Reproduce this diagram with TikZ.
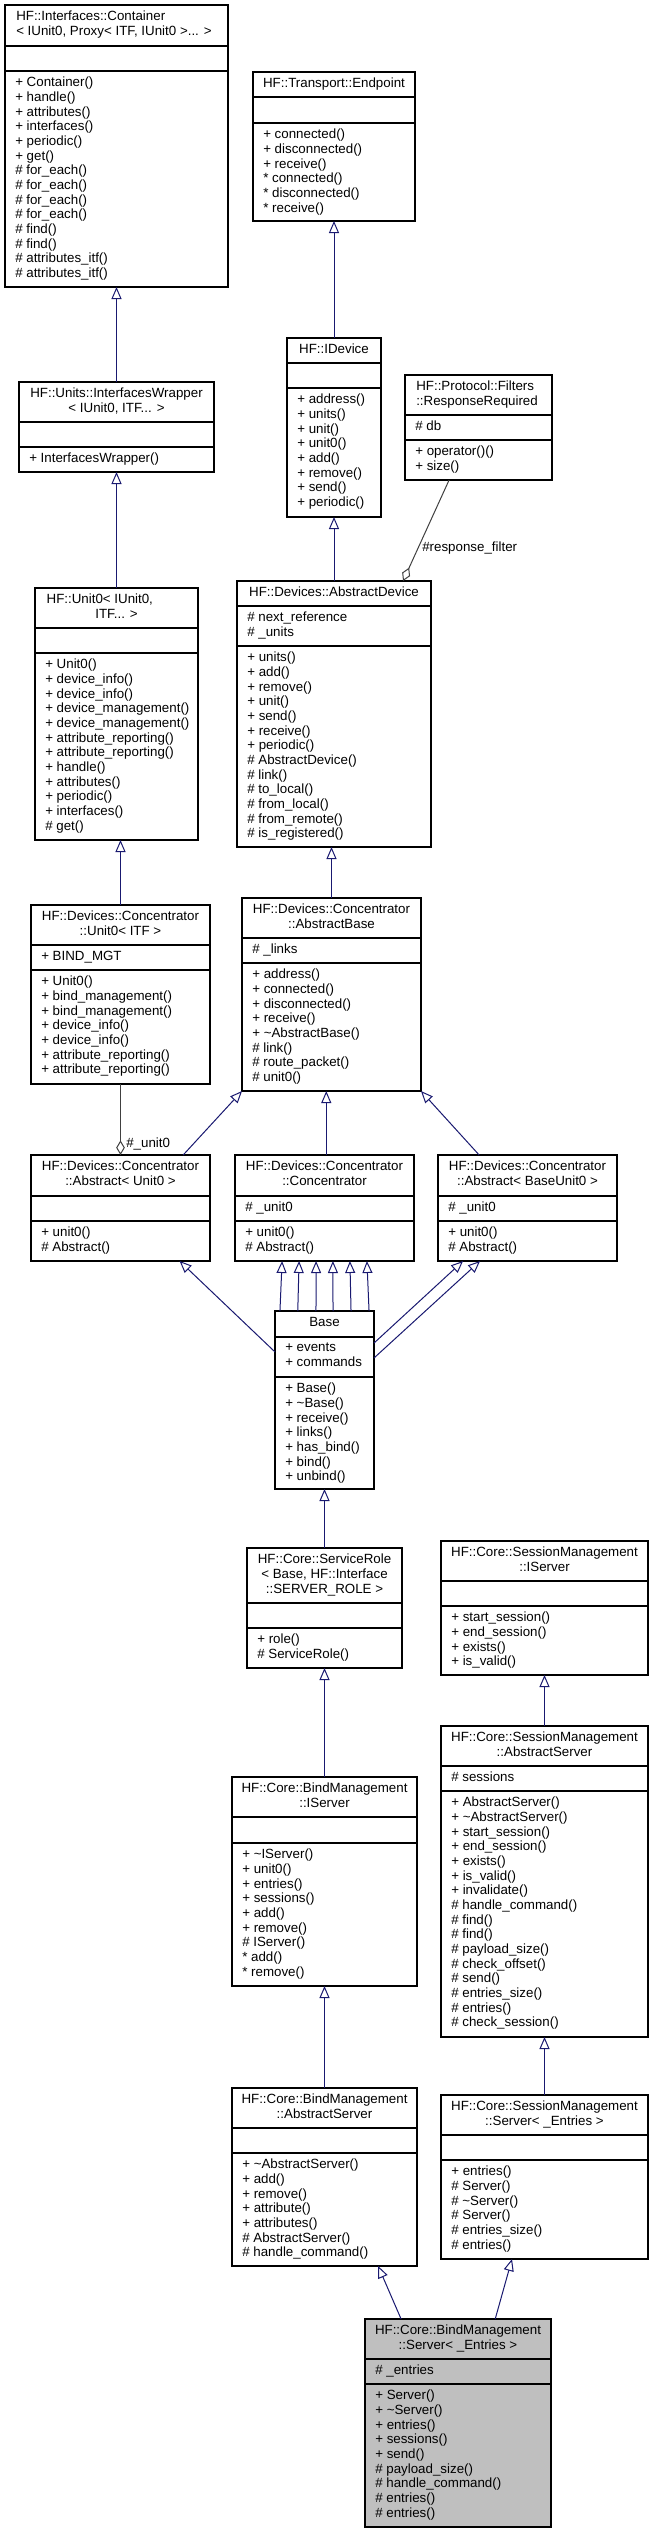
\documentclass[tikz,border=0pt]{standalone}
\usepackage{fontspec}
\setmainfont{Liberation Sans}
\usetikzlibrary{arrows.meta,calc}
\definecolor{edgeblue}{HTML}{191970}
\definecolor{edgegray}{HTML}{404040}
\definecolor{mainfill}{HTML}{BFBFBF}
\tikzset{
  classbox/.style={draw=black, line width=0.9pt, fill=white, inner sep=0pt, outer sep=0pt, rectangle},
  sepline/.style={draw=black, line width=0.9pt},
  txt/.style={anchor=north west, align=left, inner sep=0pt, font=\fontsize{10}{11}\selectfont},
  ttl/.style={anchor=north, align=center, inner sep=0pt, font=\fontsize{10}{11}\selectfont},
  ttll/.style={anchor=north west, align=left, inner sep=0pt, font=\fontsize{10}{11}\selectfont},
  lbl/.style={inner sep=0pt, font=\fontsize{10}{11}\selectfont},
  inh/.style={draw=edgeblue, line width=0.75pt, -{Triangle[length=9pt,width=7.5pt,fill=white]}},
  comp/.style={draw=edgegray, line width=0.75pt, -{Diamond[length=11pt,width=6.5pt,fill=white]}},
}
% name, x1, x2, y1, s1, s2, y2, extra style
\newcommand\umlbox[8]{%
  \node[classbox,#8,minimum width={(#3-#2)*0.75pt},minimum height={(#7-#4)*0.75pt},anchor=north west] (#1) at (#2,#4) {};
  \draw[sepline] (#2,#5) -- (#3,#5);
  \draw[sepline] (#2,#6) -- (#3,#6);
  \coordinate (#1-t) at ({(#2+#3)/2},#4+6);
  \coordinate (#1-tl) at (#2+11,#4+6);
  \coordinate (#1-a) at (#2+10,#5+6);
  \coordinate (#1-m) at (#2+10,#6+6);
}
\begin{document}
\begin{tikzpicture}[x=0.75pt,y=-0.75pt]
\path[fill=white,use as bounding box] (0,0) rectangle (653,2531);

% ---- classes ----
\umlbox{cont}{5}{228}{5}{46}{71}{287}{}
\node[ttll] (cont-title) at (cont-tl) {HF::Interfaces::Container\\< IUnit0, Proxy< ITF, IUnit0 >... >};
\node[txt] (cont-meth) at (cont-m) {+ Container()\\+ handle()\\+ attributes()\\+ interfaces()\\+ periodic()\\+ get()\\\# for\_each()\\\# for\_each()\\\# for\_each()\\\# for\_each()\\\# find()\\\# find()\\\# attributes\_itf()\\\# attributes\_itf()};

\umlbox{endp}{253}{415}{72}{97}{123}{221}{}
\node[ttl] (endp-title) at (endp-t) {HF::Transport::Endpoint};
\node[txt] (endp-meth) at (endp-m) {+ connected()\\+ disconnected()\\+ receive()\\* connected()\\* disconnected()\\* receive()};

\umlbox{iw}{19}{214}{382}{422}{447}{472}{}
\node[ttl] (iw-title) at (iw-t) {HF::Units::InterfacesWrapper\\< IUnit0, ITF... >};
\node[txt] (iw-meth) at (iw-m) {+ InterfacesWrapper()};

\umlbox{idev}{287}{381}{338}{363}{388}{517}{}
\node[ttl] (idev-title) at (idev-t) {HF::IDevice};
\node[txt] (idev-meth) at (idev-m) {+ address()\\+ units()\\+ unit()\\+ unit0()\\+ add()\\+ remove()\\+ send()\\+ periodic()};

\umlbox{resp}{405}{552}{375}{415}{440}{480}{}
\node[ttll] (resp-title) at (resp-tl) {HF::Protocol::Filters\\::ResponseRequired};
\node[txt] (resp-attr) at (resp-a) {\# db};
\node[txt] (resp-meth) at (resp-m) {+ operator()()\\+ size()};

\umlbox{u0}{35}{198}{588}{628}{653}{840}{}
\node[ttl] (u0-title) at (u0-t) {\makebox[104.8pt][l]{HF::Unit0< IUnit0,}\\ITF... >};
\node[txt] (u0-meth) at (u0-m) {+ Unit0()\\+ device\_info()\\+ device\_info()\\+ device\_management()\\+ device\_management()\\+ attribute\_reporting()\\+ attribute\_reporting()\\+ handle()\\+ attributes()\\+ periodic()\\+ interfaces()\\\# get()};

\umlbox{adev}{237}{431}{581}{606}{646}{847}{}
\node[ttl] (adev-title) at (adev-t) {HF::Devices::AbstractDevice};
\node[txt] (adev-attr) at (adev-a) {\# next\_reference\\\# \_units};
\node[txt] (adev-meth) at (adev-m) {+ units()\\+ add()\\+ remove()\\+ unit()\\+ send()\\+ receive()\\+ periodic()\\\# AbstractDevice()\\\# link()\\\# to\_local()\\\# from\_local()\\\# from\_remote()\\\# is\_registered()};

\umlbox{cu0}{31}{210}{905}{945}{970}{1084}{}
\node[ttl] (cu0-title) at (cu0-t) {HF::Devices::Concentrator\\::Unit0< ITF >};
\node[txt] (cu0-attr) at (cu0-a) {+ BIND\_MGT};
\node[txt] (cu0-meth) at (cu0-m) {+ Unit0()\\+ bind\_management()\\+ bind\_management()\\+ device\_info()\\+ device\_info()\\+ attribute\_reporting()\\+ attribute\_reporting()};

\umlbox{abase}{242}{421}{898}{938}{963}{1091}{}
\node[ttl] (abase-title) at (abase-t) {HF::Devices::Concentrator\\::AbstractBase};
\node[txt] (abase-attr) at (abase-a) {\# \_links};
\node[txt] (abase-meth) at (abase-m) {+ address()\\+ connected()\\+ disconnected()\\+ receive()\\+ \textasciitilde AbstractBase()\\\# link()\\\# route\_packet()\\\# unit0()};

\umlbox{au0}{31}{210}{1155}{1196}{1221}{1261}{}
\node[ttl] (au0-title) at (au0-t) {HF::Devices::Concentrator\\::Abstract< Unit0 >};
\node[txt] (au0-meth) at (au0-m) {+ unit0()\\\# Abstract()};

\umlbox{conc}{235}{414}{1155}{1196}{1221}{1261}{}
\node[ttl] (conc-title) at (conc-t) {HF::Devices::Concentrator\\::Concentrator};
\node[txt] (conc-attr) at (conc-a) {\# \_unit0};
\node[txt] (conc-meth) at (conc-m) {+ unit0()\\\# Abstract()};

\umlbox{abu0}{438}{617}{1155}{1196}{1221}{1261}{}
\node[ttl] (abu0-title) at (abu0-t) {HF::Devices::Concentrator\\::Abstract< BaseUnit0 >};
\node[txt] (abu0-attr) at (abu0-a) {\# \_unit0};
\node[txt] (abu0-meth) at (abu0-m) {+ unit0()\\\# Abstract()};

\umlbox{base}{275}{374}{1311}{1337}{1377}{1489}{}
\node[ttl] (base-title) at (base-t) {Base};
\node[txt] (base-attr) at (base-a) {+ events\\+ commands};
\node[txt] (base-meth) at (base-m) {+ Base()\\+ \textasciitilde Base()\\+ receive()\\+ links()\\+ has\_bind()\\+ bind()\\+ unbind()};

\umlbox{srole}{247}{402}{1548}{1603}{1628}{1668}{}
\node[ttl] (srole-title) at (srole-t) {HF::Core::ServiceRole\\< Base, HF::Interface\\::SERVER\_ROLE >};
\node[txt] (srole-meth) at (srole-m) {+ role()\\\# ServiceRole()};

\umlbox{smis}{441}{648}{1541}{1581}{1606}{1675}{}
\node[ttl] (smis-title) at (smis-t) {HF::Core::SessionManagement\\::IServer};
\node[txt] (smis-meth) at (smis-m) {+ start\_session()\\+ end\_session()\\+ exists()\\+ is\_valid()};

\umlbox{smas}{441}{648}{1726}{1766}{1791}{2037}{}
\node[ttl] (smas-title) at (smas-t) {HF::Core::SessionManagement\\::AbstractServer};
\node[txt] (smas-attr) at (smas-a) {\# sessions};
\node[txt] (smas-meth) at (smas-m) {+ AbstractServer()\\+ \textasciitilde AbstractServer()\\+ start\_session()\\+ end\_session()\\+ exists()\\+ is\_valid()\\+ invalidate()\\\# handle\_command()\\\# find()\\\# find()\\\# payload\_size()\\\# check\_offset()\\\# send()\\\# entries\_size()\\\# entries()\\\# check\_session()};

\umlbox{bmis}{232}{417}{1777}{1817}{1843}{1986}{}
\node[ttl] (bmis-title) at (bmis-t) {HF::Core::BindManagement\\::IServer};
\node[txt] (bmis-meth) at (bmis-m) {+ \textasciitilde IServer()\\+ unit0()\\+ entries()\\+ sessions()\\+ add()\\+ remove()\\\# IServer()\\* add()\\* remove()};

\umlbox{bmas}{232}{417}{2088}{2128}{2153}{2266}{}
\node[ttl] (bmas-title) at (bmas-t) {HF::Core::BindManagement\\::AbstractServer};
\node[txt] (bmas-meth) at (bmas-m) {+ \textasciitilde AbstractServer()\\+ add()\\+ remove()\\+ attribute()\\+ attributes()\\\# AbstractServer()\\\# handle\_command()};

\umlbox{sms}{441}{648}{2095}{2135}{2160}{2259}{}
\node[ttl] (sms-title) at (sms-t) {HF::Core::SessionManagement\\::Server< \_Entries >};
\node[txt] (sms-meth) at (sms-m) {+ entries()\\\# Server()\\\# \textasciitilde Server()\\\# Server()\\\# entries\_size()\\\# entries()};

\umlbox{bms}{365}{551}{2319}{2359}{2384}{2527}{fill=mainfill}
\node[ttl] (bms-title) at (bms-t) {HF::Core::BindManagement\\::Server< \_Entries >};
\node[txt] (bms-attr) at (bms-a) {\# \_entries};
\node[txt] (bms-meth) at (bms-m) {+ Server()\\+ \textasciitilde Server()\\+ entries()\\+ sessions()\\+ send()\\\# payload\_size()\\\# handle\_command()\\\# entries()\\\# entries()};

% ---- inheritance edges ----
\draw[inh] (iw.north) -- (cont.south);
\draw[inh] (u0.north) -- (iw.south);
\draw[inh] (idev.north) -- (endp.south);
\draw[inh] (adev.north) -- (idev.south);
\draw[inh] (cu0.north) -- (cu0.north |- u0.south);
\draw[inh] (abase.north) -- (abase.north |- adev.south);
\draw[inh] ($(au0.north west)!0.85!(au0.north east)$) -- (abase.south west);
\coordinate (concup) at ($(conc.north west)!0.51!(conc.north east)$);
\draw[inh] (concup) -- (concup |- abase.south);
\draw[inh] ($(abu0.north west)!0.23!(abu0.north east)$) -- (abase.south east);
\foreach \a/\b in {0.05/0.263, 0.23/0.358, 0.414/0.453, 0.586/0.547, 0.768/0.642, 0.95/0.737}
  \draw[inh] ($(base.north west)!\a!(base.north east)$) -- ($(conc.south west)!\b!(conc.south east)$);
\draw[inh] ($(base.north west)!0.23!(base.south west)$) -- ($(au0.south west)!0.83!(au0.south east)$);
\draw[inh] ($(base.north east)!0.18!(base.south east)$) -- ($(abu0.south west)!0.14!(abu0.south east)$);
\draw[inh] ($(base.north east)!0.264!(base.south east)$) -- ($(abu0.south west)!0.235!(abu0.south east)$);
\draw[inh] (srole.north) -- (base.south);
\draw[inh] (bmis.north) -- (srole.south);
\draw[inh] (bmas.north) -- (bmis.south);
\draw[inh] (smas.north) -- (smis.south);
\draw[inh] (sms.north) -- (smas.south);
\draw[inh] ($(bms.north west)!0.194!(bms.north east)$) -- ($(bmas.south west)!0.79!(bmas.south east)$);
\draw[inh] ($(bms.north west)!0.70!(bms.north east)$) -- ($(sms.south west)!0.343!(sms.south east)$);

% ---- composition edges ----
\draw[comp] ($(resp.south west)!0.30!(resp.south east)$) -- ($(adev.north west)!0.856!(adev.north east)$);
\node[lbl, anchor=west] (lbl-rf) at (422,548) {\#response\_filter};
\draw[comp] (cu0.south) -- (cu0.south |- au0.north);
\node[lbl, anchor=west] (lbl-u0) at (126,1144) {\#\_unit0};
\end{tikzpicture}
\end{document}
